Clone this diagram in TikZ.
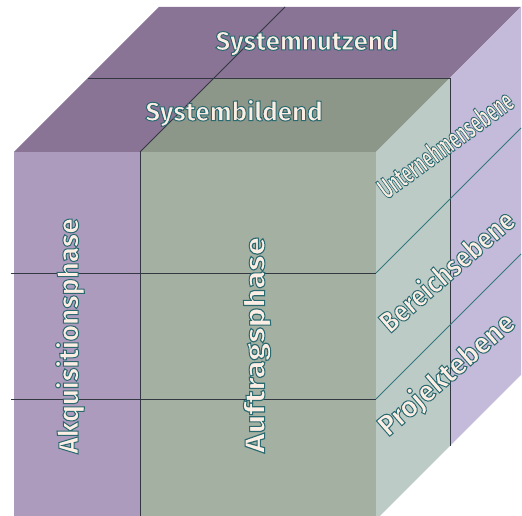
\documentclass[tikz,border=0pt]{standalone}
\usepackage{fontspec}
\setsansfont{Fira Sans}
\usetikzlibrary{calc}
\definecolor{akqpurple}{RGB}{172,155,188}
\definecolor{auftgreen}{RGB}{164,176,162}
\definecolor{toppurple}{RGB}{138,116,150}
\definecolor{topgreen}{RGB}{140,150,137}
\definecolor{sidegreen}{RGB}{188,203,198}
\definecolor{sidelav}{RGB}{196,186,218}
\definecolor{edgedark}{RGB}{50,55,65}
\definecolor{edgeteal}{RGB}{50,120,125}
\definecolor{labelcream}{RGB}{252,238,228}
% cream letters, stroked with a teal outline
\newcommand{\cubelabel}[1]{\textcolor{labelcream}{\special{pdf:literal direct 0.16 0.41 0.44 RG 0.75 w 2 Tr}#1\special{pdf:literal direct 0 Tr 0.4 w}}}

\begin{document}
\begin{tikzpicture}[
    x=0.75pt, y=0.75pt,
    edge/.style={line width=0.7pt, draw=edgedark},
    sideedge/.style={line width=0.7pt, draw=edgeteal},
    lbltop/.style={font=\sffamily\bfseries\fontsize{19.5}{20}\selectfont, inner sep=0pt},
    lblphase/.style={font=\sffamily\bfseries\fontsize{21}{22}\selectfont, inner sep=0pt, rotate=90},
    lbllevel/.style={font=\sffamily\bfseries\fontsize{22}{23}\selectfont, inner sep=0pt, rotate=41},
]
\useasboundingbox (0,0) rectangle (522,516);
\clip (0,0) rectangle (522,516);

% front face corners and depth
\coordinate (ftl) at (14,364);
\coordinate (ftm) at (140,364);
\coordinate (ftr) at (376,364);
\coordinate (fbl) at (14,-4);
\coordinate (fbm) at (140,-4);
\coordinate (fbr) at (376,-4);
\coordinate (dh) at (74,74);   % half depth
\coordinate (dd) at (145,145); % full depth

% front face
\fill[akqpurple] (fbl) rectangle (ftm);
\fill[auftgreen] (fbm) rectangle (ftr);

% top face
\fill[toppurple] (ftl) -- (ftr) -- ($(ftr)+(dd)$) -- ($(ftl)+(dd)$) -- cycle;
\fill[topgreen] (ftm) -- (ftr) -- ($(ftr)+(dh)$) -- ($(ftm)+(dh)$) -- cycle;

% side face
\fill[sidegreen] (fbr) -- (ftr) -- ($(ftr)+(dh)$) -- ($(fbr)+(dh)$) -- cycle;
\fill[sidelav] ($(fbr)+(dh)$) -- ($(ftr)+(dh)$) -- ($(ftr)+(dd)$) -- ($(fbr)+(dd)$) -- cycle;

% division lines
\draw[edge] (ftm) -- (fbm);
\draw[edge] (ftm) -- ($(ftm)+(dd)$);
\draw[edge] ($(ftl)+(dh)$) -- ($(ftr)+(dh)$) -- ($(fbr)+(dh)$);
\foreach \ry in {243,117} {
    \draw[edge] (11,\ry) -- (376,\ry);
    \draw[sideedge] (376,\ry) -- ++(145,145);
}

% labels
\node[lbltop] (nutzend) at (307,473) {\cubelabel{Systemnutzend}};
\node[lbltop] (bildend) at (234,403) {\cubelabel{Systembildend}};
\node[lblphase] (akq) at (70,180) {\cubelabel{Akquisitionsphase}};
\node[lblphase, xscale=1.17] (auft) at (257,171) {\cubelabel{Auftragsphase}};
\node[lbllevel, rotate=-5, xscale=0.57] (unt) at (445,372) {\cubelabel{Unternehmensebene}};
\node[lbllevel, xscale=0.85] (ber) at (446,246) {\cubelabel{Bereichsebene}};
\node[lbllevel, xscale=0.95] (proj) at (447,141) {\cubelabel{Projektebene}};

\end{tikzpicture}
\end{document}
